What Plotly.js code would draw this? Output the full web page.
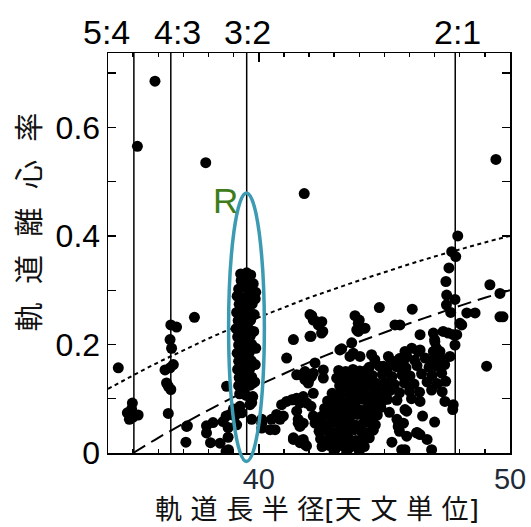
<!DOCTYPE html>
<html>
<head>
<meta charset="utf-8">
<script src="https://cdn.plot.ly/plotly-3.0.1.min.js"></script>
<style>html,body{margin:0;padding:0;background:#fff;}#chart{width:531px;height:527px;}</style>
</head>
<body>
<div id="chart"></div>
<script>
// ---------- data ----------
const resA = [35.03, 36.5, 39.52, 47.82];
const resLabels = ['5:4', '4:3', '3:2', '2:1'];

// perihelion curves q = 30 AU (dotted) and q = 35 AU (dashed)
const q30A = [34, 35, 36, 37, 38, 39, 40, 41, 42, 43, 44, 45, 46, 47, 48, 49, 50];
const q30E = [0.118, 0.143, 0.167, 0.189, 0.211, 0.231, 0.25, 0.268, 0.286, 0.302, 0.318, 0.333, 0.348, 0.362, 0.375, 0.388, 0.4];
const q35A = [35, 36, 37, 38, 39, 40, 41, 42, 43, 44, 45, 46, 47, 48, 49, 50];
const q35E = [0, 0.028, 0.054, 0.079, 0.103, 0.125, 0.146, 0.167, 0.186, 0.205, 0.222, 0.239, 0.255, 0.271, 0.286, 0.3];

const res54A = [34.41, 34.97, 34.94, 34.77, 34.85, 35.20, 35.00];
const res54E = [0.157, 0.092, 0.081, 0.074, 0.062, 0.070, 0.066];

const res43A = [36.50, 36.73, 36.47, 36.53, 36.60, 36.27, 36.47, 36.33, 36.40, 36.50, 36.40];
const res43E = [0.236, 0.232, 0.209, 0.193, 0.163, 0.153, 0.157, 0.129, 0.123, 0.117, 0.073];

const res32A = [39.28, 39.52, 39.68, 39.30, 39.56, 39.78, 39.20, 39.44, 39.70, 39.88,
  39.14, 39.40, 39.62, 39.86, 39.22, 39.48, 39.74, 39.12, 39.36, 39.60, 39.82,
  39.18, 39.44, 39.68, 39.10, 39.34, 39.58, 39.80, 39.16, 39.42, 39.66,
  39.20, 39.46, 39.72, 39.88, 39.14, 39.38, 39.62, 39.20, 39.46, 39.70, 39.86,
  39.16, 39.40, 39.64, 39.22, 39.48, 39.72, 39.84, 39.20, 39.44, 39.66,
  39.24, 39.50, 39.76];
const res32E = [0.330, 0.332, 0.328, 0.318, 0.316, 0.312, 0.302, 0.305, 0.300, 0.296,
  0.289, 0.286, 0.290, 0.284, 0.274, 0.271, 0.275, 0.259, 0.256, 0.260, 0.255,
  0.244, 0.241, 0.245, 0.229, 0.226, 0.230, 0.224, 0.214, 0.211, 0.215,
  0.199, 0.196, 0.200, 0.193, 0.184, 0.181, 0.185, 0.169, 0.166, 0.170, 0.163,
  0.154, 0.151, 0.155, 0.139, 0.136, 0.140, 0.131, 0.124, 0.121, 0.125,
  0.109, 0.106, 0.104];

const res21A = [47.92, 47.68, 47.84, 47.57, 47.45, 47.48, 47.81, 47.47, 47.64, 47.88, 47.81, 47.61, 47.74, 47.72, 48.08, 48.01, 47.74];
const res21E = [0.400, 0.371, 0.362, 0.341, 0.316, 0.291, 0.283, 0.273, 0.259, 0.218, 0.199, 0.178, 0.089, 0.080, 0.236, 0.239, 0.218];

const scatA = [35.17, 35.87, 37.89, 41.81, 49.44, 37.44, 49.20, 49.60, 49.60, 49.72, 49.07, 48.28, 48.61, 46.11, 44.80];
const scatE = [0.565, 0.685, 0.535, 0.478, 0.541, 0.250, 0.310, 0.294, 0.251, 0.251, 0.160, 0.258, 0.258, 0.265, 0.268];

const near32A = [37.13, 37.10, 37.16, 37.92, 38.08, 38.46, 38.78, 38.78, 38.58, 38.18, 37.92,
  38.70, 38.86, 38.72, 39.12, 39.05, 38.99, 39.25, 39.32, 39.72, 39.65, 39.72,
  40.12, 40.12, 40.12, 40.51, 40.45, 38.70, 38.79];
const near32E = [0.049, 0.020, 0.050, 0.037, 0.019, 0.018, 0.029, 0.047, 0.058, 0.056, 0.050,
  0.068, 0.071, 0.123, 0.052, 0.068, 0.081, 0.086, 0.074, 0.093, 0.089, 0.062,
  0.055, 0.062, 0.046, 0.062, 0.043, 0.003, 0.006];

const midA = [40.91, 41.11, 41.31, 41.51, 40.71, 40.85, 40.65, 41.38, 41.64, 41.77, 41.57,
  41.51, 41.11, 41.38, 42.04, 42.17, 42.04, 41.84, 41.97, 41.77, 41.91, 41.71, 41.84,
  42.00, 42.10, 42.17, 42.08, 42.17, 42.24, 41.77, 41.90, 41.38, 41.64, 41.84, 40.98,
  41.38, 41.64, 41.51, 41.57, 41.64, 42.11, 42.31, 42.51, 42.55, 42.08, 42.37, 42.50,
  42.24, 42.17, 42.57, 42.57];
const midE = [0.089, 0.095, 0.098, 0.101, 0.071, 0.062, 0.043, 0.025, 0.019, 0.055, 0.055,
  0.144, 0.175, 0.209, 0.255, 0.245, 0.215, 0.135, 0.129, 0.104, 0.092, 0.144, 0.150,
  0.135, 0.141, 0.110, 0.086, 0.068, 0.055, 0.025, 0.013, 0.028, 0.022, 0.016, 0.068,
  0.098, 0.092, 0.077, 0.062, 0.049, 0.253, 0.242, 0.242, 0.224, 0.215, 0.236, 0.221,
  0.166, 0.147, 0.138, 0.153];

const upperA = [43.96, 44.16, 43.96, 43.83, 44.00, 44.23, 43.90, 45.42, 45.62, 43.23, 43.70,
  43.76, 43.63, 44.03, 44.49, 45.16, 45.82, 46.09, 45.89, 45.76, 46.42, 46.35, 46.95,
  47.01, 47.21, 46.95, 47.34, 47.54, 46.42, 47.00, 47.07, 47.13, 44.23, 44.96, 43.30];
const upperE = [0.239, 0.230, 0.224, 0.253, 0.245, 0.230, 0.227, 0.236, 0.236, 0.190, 0.203,
  0.184, 0.178, 0.178, 0.181, 0.178, 0.187, 0.193, 0.178, 0.169, 0.218, 0.187, 0.221,
  0.205, 0.187, 0.187, 0.224, 0.221, 0.190, 0.209, 0.193, 0.187, 0.150, 0.160, 0.192];

const bandA = [44.62, 45.28, 45.60, 46.20, 46.62, 46.92, 47.22,
  44.40, 44.80, 45.12, 45.48, 45.86, 46.30, 46.78, 47.08, 47.40,
  44.52, 44.92, 45.30, 45.70, 46.02, 46.48, 46.90, 47.28,
  44.70, 45.02, 45.40, 45.80, 46.18, 46.70, 47.10, 47.44,
  44.92, 45.22, 45.60, 46.00, 46.40, 46.88, 47.30,
  45.12, 45.50, 46.08];
const bandE = [0.172, 0.170, 0.174, 0.171, 0.175, 0.170, 0.176,
  0.158, 0.160, 0.156, 0.159, 0.157, 0.161, 0.158, 0.160, 0.163,
  0.143, 0.145, 0.141, 0.144, 0.142, 0.146, 0.143, 0.147,
  0.128, 0.130, 0.126, 0.129, 0.127, 0.131, 0.128, 0.132,
  0.113, 0.115, 0.111, 0.114, 0.112, 0.116, 0.113,
  0.099, 0.097, 0.100];

const blobA = [43.18, 43.46, 43.75, 44.02, 44.30,
  43.10, 43.38, 43.66, 43.94, 44.22, 44.50,
  43.22, 43.50, 43.78, 44.06, 44.34, 44.62,
  42.92, 43.20, 43.48, 43.76, 44.04, 44.32, 44.60, 44.86,
  42.74, 43.02, 43.30, 43.58, 43.86, 44.14, 44.42, 44.70, 44.98,
  42.62, 42.90, 43.18, 43.46, 43.74, 44.02, 44.30, 44.58, 44.86,
  42.52, 42.80, 43.08, 43.36, 43.64, 43.92, 44.20, 44.48, 44.72,
  42.46, 42.74, 43.02, 43.30, 43.58, 43.86, 44.14, 44.42, 44.64,
  42.40, 42.68, 42.96, 43.24, 43.52, 43.80, 44.08, 44.36, 44.56,
  42.46, 42.74, 43.02, 43.30, 43.58, 43.86, 44.14, 44.40,
  42.52, 42.80, 43.08, 43.36, 43.64, 43.92, 44.20,
  43.00, 43.50, 44.00];
const blobE = [0.152, 0.150, 0.154, 0.151, 0.153,
  0.138, 0.136, 0.140, 0.137, 0.139, 0.135,
  0.124, 0.122, 0.126, 0.123, 0.125, 0.121,
  0.110, 0.108, 0.112, 0.109, 0.111, 0.107, 0.110, 0.108,
  0.096, 0.098, 0.094, 0.097, 0.095, 0.099, 0.096, 0.094, 0.098,
  0.082, 0.080, 0.084, 0.081, 0.083, 0.079, 0.082, 0.080, 0.084,
  0.068, 0.070, 0.066, 0.069, 0.067, 0.071, 0.068, 0.066, 0.070,
  0.054, 0.052, 0.056, 0.053, 0.055, 0.051, 0.054, 0.056, 0.052,
  0.040, 0.042, 0.038, 0.041, 0.039, 0.043, 0.040, 0.038, 0.042,
  0.026, 0.024, 0.028, 0.025, 0.027, 0.023, 0.026, 0.028,
  0.012, 0.014, 0.010, 0.013, 0.011, 0.015, 0.012,
  0.003, 0.002, 0.004];

const lowRA = [45.89, 46.52, 47.00, 46.30, 46.70, 46.88, 45.82, 45.60, 45.55, 45.50, 45.82,
  45.76, 46.28, 46.42, 45.69, 46.42, 47.41, 45.89, 45.20, 45.30];
const lowRE = [0.077, 0.068, 0.057, 0.038, 0.025, 0.006, 0.006, 0.040, 0.049, 0.062, 0.080,
  0.055, 0.037, 0.034, 0.006, 0.095, 0.095, 0.031, 0.075, 0.020];

// ---------- chart ----------
const groupsA = [res54A, res43A, res32A, res21A, scatA, near32A, midA, upperA, bandA, blobA, lowRA];
const groupsE = [res54E, res43E, res32E, res21E, scatE, near32E, midE, upperE, bandE, blobE, lowRE];

const traces = [
  {x: q30A, y: q30E, type: 'scatter', mode: 'lines', line: {color: '#000', width: 2, dash: '4px,3.5px', shape: 'spline'}, hoverinfo: 'skip'},
  {x: q35A, y: q35E, type: 'scatter', mode: 'lines', line: {color: '#000', width: 2, dash: '14px,7px', shape: 'spline'}, hoverinfo: 'skip'}
];
groupsA.forEach((ga, i) => {
  traces.push({x: ga, y: groupsE[i], type: 'scatter', mode: 'markers',
    marker: {color: '#000', size: 11, line: {width: 0}}});
});

const shapes = resA.map(a => ({type: 'line', xref: 'x', yref: 'paper', x0: a, x1: a, y0: 0, y1: 1,
  line: {color: '#000', width: 1.5}, layer: 'below'}));
shapes.push({type: 'circle', xref: 'paper', yref: 'paper', x0: 0.300, x1: 0.389, y0: -0.021, y1: 0.650,
  line: {color: '#3c9bb2', width: 3.5}, layer: 'above'});

const labelShift = [-27, 7, 1, 2];
const annotations = resLabels.map((t, i) => ({text: t, x: resA[i], xref: 'x', y: 1.052, yref: 'paper',
  xshift: labelShift[i], showarrow: false, xanchor: 'center', yanchor: 'middle',
  font: {family: 'Liberation Sans, Arial, sans-serif', size: 34, color: '#000'}}));
annotations.push({text: 'R', x: 0.2935, y: 0.6325, xref: 'paper', yref: 'paper', showarrow: false,
  xanchor: 'center', yanchor: 'middle', font: {family: 'Liberation Sans, Arial, sans-serif', size: 35, color: '#3f7d1c'}});
annotations.push({text: '軌\u00a0\u00a0道\u00a0\u00a0離\u00a0\u00a0心\u00a0\u00a0率', x: -0.195, y: 0.578, xref: 'paper', yref: 'paper',
  textangle: -90, showarrow: false, xanchor: 'center', yanchor: 'middle',
  font: {family: 'DejaVu Sans, Noto Sans CJK JP, sans-serif', size: 29, color: '#111'}});
annotations.push({text: '軌 道 長 半 径[天 文 単 位]', x: 0.52, y: -0.1835, xref: 'paper', yref: 'paper',
  showarrow: false, xanchor: 'center', yanchor: 'bottom', borderpad: 0,
  font: {family: 'DejaVu Sans, Noto Sans CJK JP, sans-serif', size: 27, color: '#111'}});

const layout = {
  width: 531, height: 527,
  margin: {l: 108, r: 21, t: 53, b: 74, pad: 0},
  paper_bgcolor: '#fff', plot_bgcolor: '#fff',
  showlegend: false,
  xaxis: {range: [34, 50], tick0: 40, dtick: 10, ticks: 'inside', ticklen: 9, tickwidth: 1.5, tickcolor: '#000',
    showline: true, linecolor: '#000', linewidth: 1.5, mirror: 'ticks', showgrid: false, zeroline: false,
    minor: {dtick: 1, ticks: 'inside', ticklen: 4, tickwidth: 1.3, tickcolor: '#000', showgrid: false},
    tickfont: {family: 'Liberation Sans, Arial, sans-serif', size: 29, color: '#1e2a38'}},
  yaxis: {range: [0, 0.737], tick0: 0, dtick: 0.2, ticks: 'inside', ticklen: 8, tickwidth: 1.5, tickcolor: '#000',
    showline: true, linecolor: '#000', linewidth: 1.5, mirror: 'ticks', showgrid: false, zeroline: false,
    minor: {dtick: 0.1, ticks: 'inside', ticklen: 8, tickwidth: 1.3, tickcolor: '#000', showgrid: false},
    tickfont: {family: 'Liberation Sans, Arial, sans-serif', size: 32, color: '#000'}},
  shapes: shapes,
  annotations: annotations
};

Plotly.newPlot('chart', traces, layout, {displayModeBar: false, staticPlot: true});
</script>
</body>
</html>
